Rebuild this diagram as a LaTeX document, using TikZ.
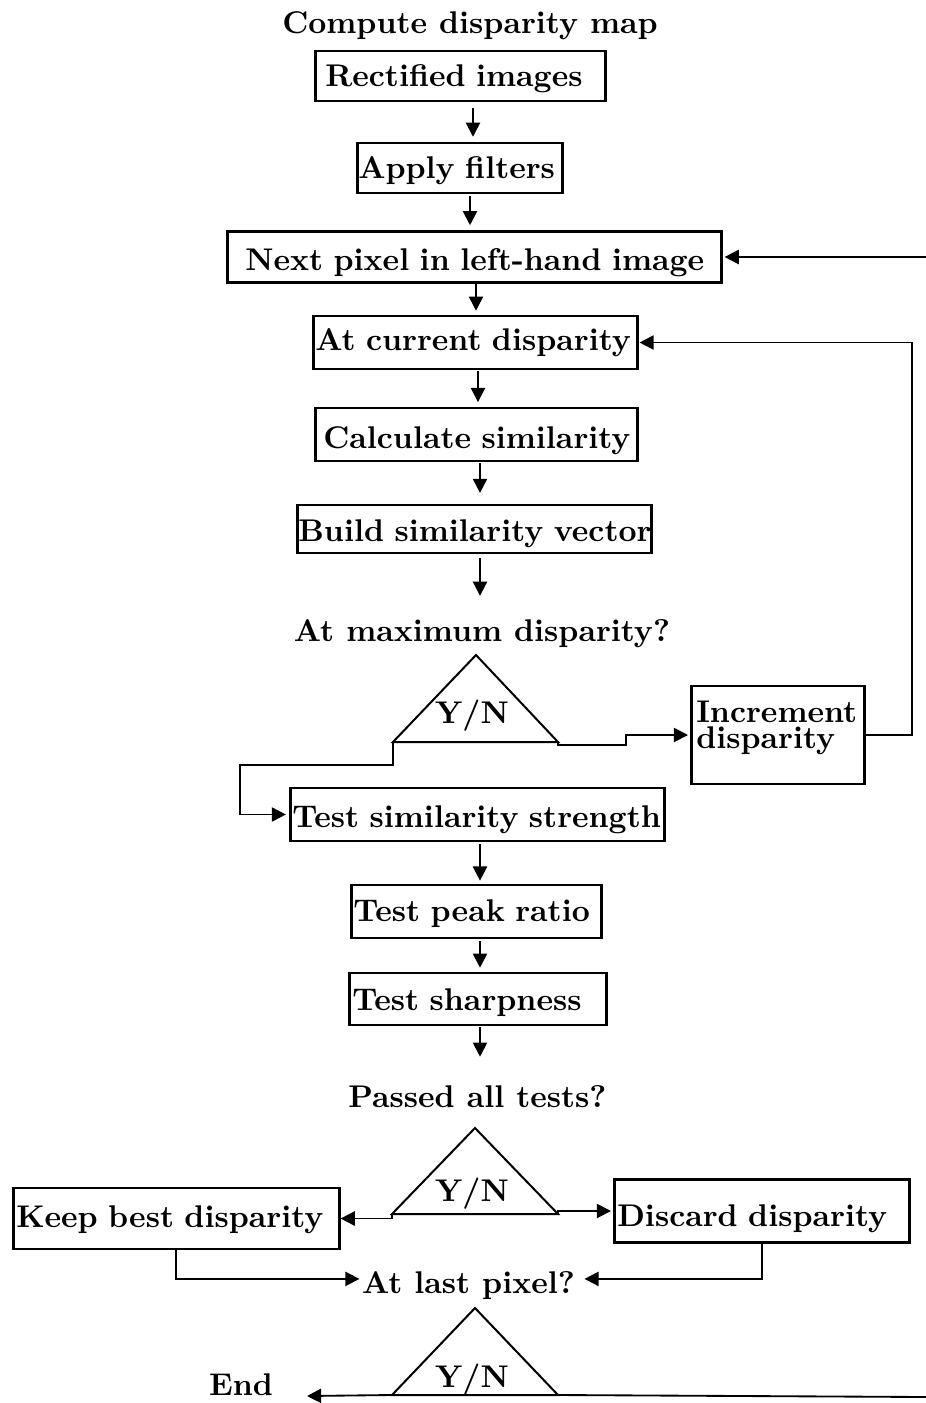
\documentclass[tikz,border=0pt]{standalone}
\usetikzlibrary{arrows.meta}
\begin{document}
\begin{tikzpicture}[x=0.325pt, y=-0.325pt,
  every node/.style={font=\fontsize{10.2pt}{12pt}\selectfont\bfseries},
  box/.style={draw, line width=0.85pt, anchor=west, align=left, inner ysep=0pt},
  bl/.style={text height=#1, text depth=0pt},
  qtext/.style={inner sep=0pt, anchor=base},
  conn/.style={line width=0.6pt},
  arr/.style={conn, -{Triangle[length=4.6pt,width=4.6pt]}},
  tri/.style={line width=0.65pt, line join=miter},
  base/.style={line width=0.95pt},
]
\useasboundingbox (0,0) rectangle (926,1403);

% ---- title and main column of process boxes
\node[qtext] (title) at (470,33) {Compute disparity map};
\node[box, bl=6.5pt, text width=87.75pt, inner xsep=3.25pt, minimum height=16.25pt] (rect) at (314,76) {\mbox{Rectified images}};
\node[box, bl=6.5pt, text width=65.975pt, inner xsep=0.325pt, minimum height=16.25pt] (apply) at (356,168) {\mbox{Apply filters}};
\node[box, bl=8.45pt, text width=148.85pt, inner xsep=5.85pt, minimum height=16.6pt] (next) at (226,257) {\mbox{Next pixel in left-hand image}};
\node[box, bl=5.4pt, text width=104pt, inner xsep=0.65pt, minimum height=17.225pt] (cur) at (312,342.5) {\mbox{At current disparity}};
\node[box, bl=8.8pt, text width=99.45pt, inner xsep=2.6pt, minimum height=17.225pt] (calc) at (314,434.5) {\mbox{Calculate similarity}};
\node[box, bl=8pt, text width=114.4pt, inner xsep=0.325pt, minimum height=15.6pt] (build) at (296,529) {\mbox{Build similarity vector}};

% ---- first decision
\node[qtext] (q1) at (482,641) {At maximum disparity?};
\coordinate (t1a) at (476,655);
\coordinate (t1l) at (393,742);
\coordinate (t1r) at (558,742);
\draw[tri] (t1a) -- (t1r) -- (t1l) -- cycle;
\draw[base] (t1l) -- (t1r);
\node[qtext] (yn1) at (472,723) {Y/N};

\node[box, text width=52.975pt, inner xsep=1.625pt, minimum height=31.85pt] (inc) at (690,735)
  {Increment\\[-3.45pt]disparity\rule[-6.9pt]{0pt}{1pt}};
\node[box, bl=8.65pt, text width=120.25pt, inner xsep=0.65pt, minimum height=17.225pt] (tss) at (289,814.5) {\mbox{Test similarity strength}};
\node[box, bl=6.3pt, text width=79.95pt, inner xsep=0.65pt, minimum height=17.225pt] (peak) at (350,911.5) {\mbox{Test peak ratio}};
\node[box, bl=7.15pt, text width=81.575pt, inner xsep=0.975pt, minimum height=16.9pt] (sharp) at (348,999) {\mbox{Test sharpness}};

% ---- second decision
\node[qtext] (q2) at (477.5,1107) {Passed all tests?};
\coordinate (t2a) at (475,1128);
\coordinate (t2l) at (392,1214);
\coordinate (t2r) at (558,1214);
\draw[tri] (t2a) -- (t2r) -- (t2l) -- cycle;
\draw[base] (t2l) -- (t2r);
\node[qtext] (yn2) at (472,1201) {Y/N};

\node[box, bl=6pt, text width=104pt, inner xsep=0.975pt, minimum height=19.825pt] (keep) at (12,1218.5) {\mbox{Keep best disparity}};
\node[box, bl=10.2pt, text width=93.925pt, inner xsep=0.975pt, minimum height=20.6pt] (disc) at (613,1211) {\mbox{Discard disparity}};

% ---- third decision
\node[qtext] (q3) at (468.5,1293) {At last pixel?};
\coordinate (t3a) at (475,1308);
\coordinate (t3l) at (392,1395);
\coordinate (t3r) at (558,1395);
\draw[tri] (t3a) -- (t3r) -- (t3l) -- cycle;
\draw[base] (t3l) -- (t3r);
\node[qtext] (yn3) at (472,1387) {Y/N};
\node[qtext] (endn) at (241,1395) {End};

% ---- routing helpers
\coordinate (s1) at (473,0);
\coordinate (s2) at (470,0);
\coordinate (s3) at (476,0);
\coordinate (s4) at (478,0);
\coordinate (s5) at (480,0);
\coordinate (rin) at (926,257);
\coordinate (rout) at (926,1397);
\coordinate (endtip) at (307,1396);
\coordinate (fb) at (912,500);

% ---- straight arrows down the column
\draw[arr, shorten <=1.95pt, shorten >=1.6pt] (rect.south -| s1) -- (apply.north -| s1);
\draw[arr, shorten <=0.65pt, shorten >=1.6pt] (apply.south -| s2) -- (next.north -| s2);
\draw[arr, shorten >=1.3pt] (next.south -| s3) -- (cur.north -| s3);
\draw[arr, shorten <=0.33pt, shorten >=1.5pt] (cur.south -| s4) -- (calc.north -| s4);
\draw[arr, shorten <=0.33pt, shorten >=3.5pt] (calc.south -| s5) -- (build.north -| s5);
\draw[arr, shorten <=1.3pt, shorten >=7.35pt] (build.south -| s5) -- (q1.north -| s5);
\draw[arr, shorten <=0.65pt, shorten >=1pt] (tss.south -| s5) -- (peak.north -| s5);
\draw[arr, shorten <=0.65pt, shorten >=1.3pt] (peak.south -| s5) -- (sharp.north -| s5);
\draw[arr, shorten <=0.33pt, shorten >=9pt] (sharp.south -| s5) -- (q2.north -| s5);

% ---- loops and branches
\draw[arr, shorten >=0.65pt] (rin) -- (next.east);
\draw[arr, shorten >=0.3pt] (inc.east) -| (fb) |- (cur.east);
\draw[arr, shorten >=0.65pt] (t1r) |- (626,745) |- (inc.west);
\draw[arr, shorten >=1pt] (t1l) |- (240,765) |- (tss.west);
\draw[arr] (t2l) |- (keep.east);
\draw[arr, shorten >=0.65pt] (t2r) |- (disc.west);
\draw[arr, shorten >=0.65pt] (keep.south) |- ([yshift=2pt]q3.west);
\draw[arr, shorten >=2.9pt] (disc.south) |- ([yshift=2pt]q3.east);
\draw[arr] (t3l) -- (endtip);
\draw[conn] (t3r) -- (rout);
\end{tikzpicture}
\end{document}
